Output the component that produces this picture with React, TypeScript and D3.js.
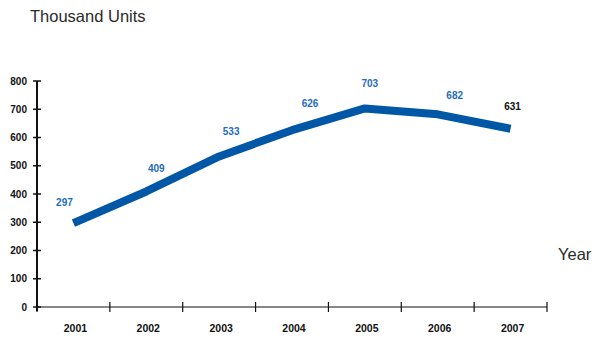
import React from "react";
import * as d3 from "d3";

const years = ["2001", "2002", "2003", "2004", "2005", "2006", "2007"];
const units = [297, 409, 533, 626, 703, 682, 631];
const labelDx = [-9, 10, 12, 18, 5, 17, 2];
const labelDy = [-21, -23, -25, -27, -25, -19, -22];
const yTicks = [0, 100, 200, 300, 400, 500, 600, 700, 800];

export default function App() {
  const W = 595, H = 338;
  const left = 37, right = 547, top = 81, bottom = 307;
  const x = d3.scaleBand<string>().domain(years).range([left, right]).padding(0);
  const y = d3.scaleLinear().domain([0, 800]).range([bottom, top]);
  const cx = (d: string) => (x(d) as number) + x.bandwidth() / 2;
  const line = d3.line<number>().x((_, i) => cx(years[i])).y((v) => y(v));
  const font = "'Liberation Sans', Arial, sans-serif";
  const bounds = [...years.map((d) => x(d) as number), right];
  return (
    <svg width={W} height={H} style={{ position: "absolute", left: 0, top: 0 }} fontFamily={font}>
      <rect width={W} height={H} fill="#fff" />
      <text x={30} y={22} fontSize={16.5} fill="#2a2a2a">Thousand Units</text>
      <text x={558} y={260} fontSize={16.5} fill="#2a2a2a">Year</text>
      {/* y axis */}
      <line x1={left} x2={left} y1={top} y2={bottom + 4} stroke="#111" strokeWidth={2} />
      {yTicks.map((t) => (
        <g key={t}>
          <line x1={left - 4} x2={left + 4} y1={y(t)} y2={y(t)} stroke="#111" strokeWidth={1.5} />
          <text x={27} y={y(t)} dy="0.35em" textAnchor="end" fontSize={10} fontWeight="bold" fill="#111">{t}</text>
        </g>
      ))}
      {/* x axis */}
      <line x1={left} x2={right} y1={bottom} y2={bottom} stroke="#111" strokeWidth={1.2} />
      {bounds.map((b, i) => (
        <line key={i} x1={b} x2={b} y1={bottom - 5} y2={bottom + 5} stroke="#111" strokeWidth={1.2} />
      ))}
      {years.map((d) => (
        <text key={d} x={cx(d) + 2} y={332} textAnchor="middle" fontSize={10.5} fontWeight="bold" fill="#111">{d}</text>
      ))}
      <path d={line(units) as string} fill="none" stroke="#0057a6" strokeWidth={8} strokeLinejoin="round" strokeLinecap="butt" />
      {units.map((v, i) => (
        <text key={i} x={cx(years[i]) + labelDx[i]} y={y(v) + labelDy[i]} dy="0.35em" textAnchor="middle" fontSize={10} fontWeight="bold"
          fill={i === units.length - 1 ? "#111" : "#1e6cbd"}>{v}</text>
      ))}
    </svg>
  );
}
